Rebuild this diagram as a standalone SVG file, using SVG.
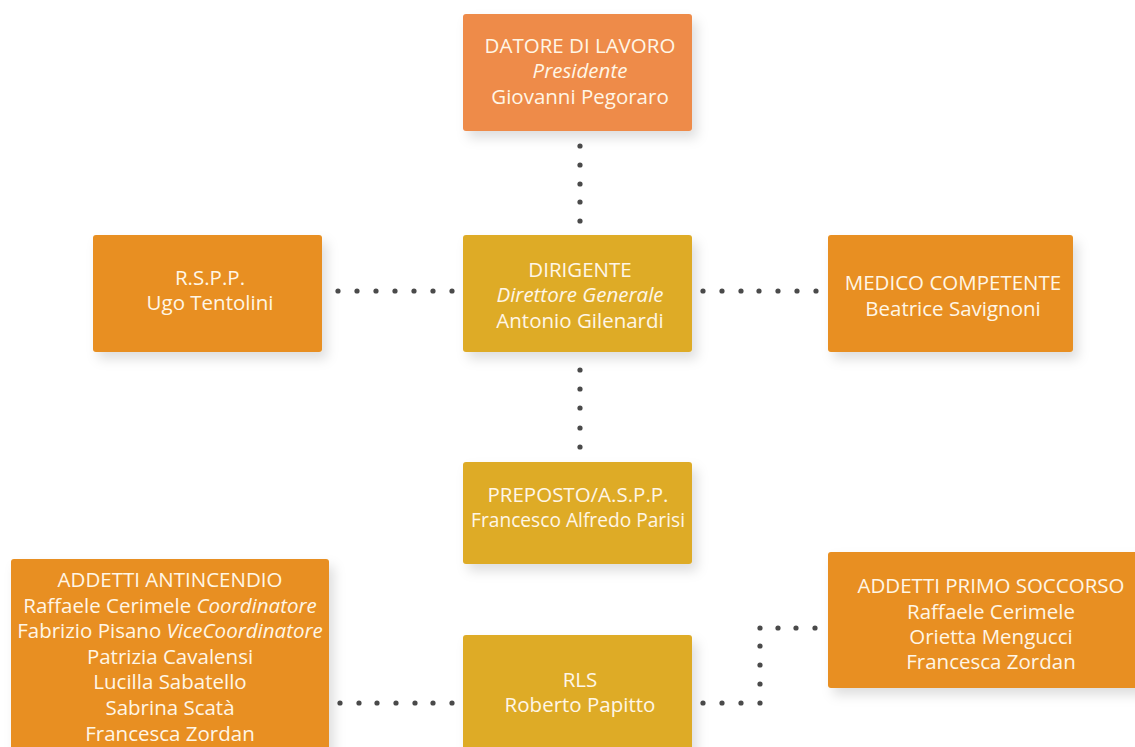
<svg xmlns="http://www.w3.org/2000/svg" width="1135" height="747" viewBox="0 0 1135 747">
<defs>
<filter id="sh" x="-20%" y="-20%" width="150%" height="160%">
<feDropShadow dx="5" dy="7" stdDeviation="6" flood-color="#000" flood-opacity="0.13"/>
</filter>
<style>
.box{filter:url(#sh)}
.o1{fill:#EE8B4A}
.o2{fill:#E88F20}
.g{fill:#DEAB27}
text{font-family:"Open Sans","Liberation Sans",sans-serif;font-size:20.5px;fill:#FFF6E6;text-anchor:middle}
.i{font-style:italic}
.dot{fill:#4a4a4a}
</style>
</defs>
<rect width="1135" height="747" fill="#fff"/>
<g id="connectors" class="dot">
<circle cx="580" cy="146" r="2.6"/><circle cx="580" cy="165" r="2.6"/><circle cx="580" cy="184" r="2.6"/><circle cx="580" cy="202" r="2.6"/><circle cx="580" cy="221" r="2.6"/>
<circle cx="338" cy="291" r="2.6"/><circle cx="357" cy="291" r="2.6"/><circle cx="376" cy="291" r="2.6"/><circle cx="395" cy="291" r="2.6"/><circle cx="414" cy="291" r="2.6"/><circle cx="433" cy="291" r="2.6"/><circle cx="452" cy="291" r="2.6"/>
<circle cx="703" cy="291" r="2.6"/><circle cx="722" cy="291" r="2.6"/><circle cx="741" cy="291" r="2.6"/><circle cx="759" cy="291" r="2.6"/><circle cx="778" cy="291" r="2.6"/><circle cx="797" cy="291" r="2.6"/><circle cx="816" cy="291" r="2.6"/>
<circle cx="580" cy="370" r="2.6"/><circle cx="580" cy="389" r="2.6"/><circle cx="580" cy="408" r="2.6"/><circle cx="580" cy="428" r="2.6"/><circle cx="580" cy="447" r="2.6"/>
<circle cx="340" cy="703" r="2.6"/><circle cx="359" cy="703" r="2.6"/><circle cx="377" cy="703" r="2.6"/><circle cx="396" cy="703" r="2.6"/><circle cx="415" cy="703" r="2.6"/><circle cx="433" cy="703" r="2.6"/><circle cx="452" cy="703" r="2.6"/>
<circle cx="703" cy="703" r="2.6"/><circle cx="722" cy="703" r="2.6"/><circle cx="741" cy="703" r="2.6"/><circle cx="760" cy="703" r="2.6"/>
<circle cx="760" cy="684" r="2.6"/><circle cx="760" cy="665" r="2.6"/><circle cx="760" cy="646" r="2.6"/><circle cx="760" cy="628" r="2.6"/>
<circle cx="778" cy="628" r="2.6"/><circle cx="796" cy="628" r="2.6"/><circle cx="815" cy="628" r="2.6"/>
</g>
<g id="datore">
<rect class="box o1" x="463" y="14" width="229" height="117" rx="3"/>
<text x="580" y="53">DATORE DI LAVORO</text>
<text x="580" y="78" class="i">Presidente</text>
<text x="580" y="104">Giovanni Pegoraro</text>
</g>
<g id="rspp">
<rect class="box o2" x="93" y="235" width="229" height="117" rx="3"/>
<text x="210" y="285">R.S.P.P.</text>
<text x="210" y="310">Ugo Tentolini</text>
</g>
<g id="dirigente">
<rect class="box g" x="463" y="235" width="229" height="117" rx="3"/>
<text x="580" y="277">DIRIGENTE</text>
<text x="580" y="302" class="i">Direttore Generale</text>
<text x="580" y="328">Antonio Gilenardi</text>
</g>
<g id="medico">
<rect class="box o2" x="828" y="235" width="245" height="117" rx="3"/>
<text x="953" y="290">MEDICO COMPETENTE</text>
<text x="953" y="316">Beatrice Savignoni</text>
</g>
<g id="preposto">
<rect class="box g" x="463" y="462" width="229" height="102" rx="3"/>
<text x="578" y="502" textLength="181" lengthAdjust="spacingAndGlyphs">PREPOSTO/A.S.P.P.</text>
<text x="578" y="527" textLength="214" lengthAdjust="spacingAndGlyphs">Francesco Alfredo Parisi</text>
</g>
<g id="antincendio">
<rect class="box o2" x="11" y="559" width="318" height="210" rx="3"/>
<text x="170" y="587">ADDETTI ANTINCENDIO</text>
<text x="170" y="613">Raffaele Cerimele <tspan class="i">Coordinatore</tspan></text>
<text x="170" y="638">Fabrizio Pisano <tspan class="i">ViceCoordinatore</tspan></text>
<text x="170" y="664">Patrizia Cavalensi</text>
<text x="170" y="689">Lucilla Sabatello</text>
<text x="170" y="715">Sabrina Scatà</text>
<text x="170" y="741">Francesca Zordan</text>
</g>
<g id="rls">
<rect class="box g" x="463" y="635" width="229" height="140" rx="3"/>
<text x="580" y="687">RLS</text>
<text x="580" y="712">Roberto Papitto</text>
</g>
<g id="primosoccorso">
<rect class="box o2" x="828" y="552" width="326" height="136" rx="3"/>
<text x="991" y="593">ADDETTI PRIMO SOCCORSO</text>
<text x="991" y="619">Raffaele Cerimele</text>
<text x="991" y="644">Orietta Mengucci</text>
<text x="991" y="669">Francesca Zordan</text>
</g>
</svg>
